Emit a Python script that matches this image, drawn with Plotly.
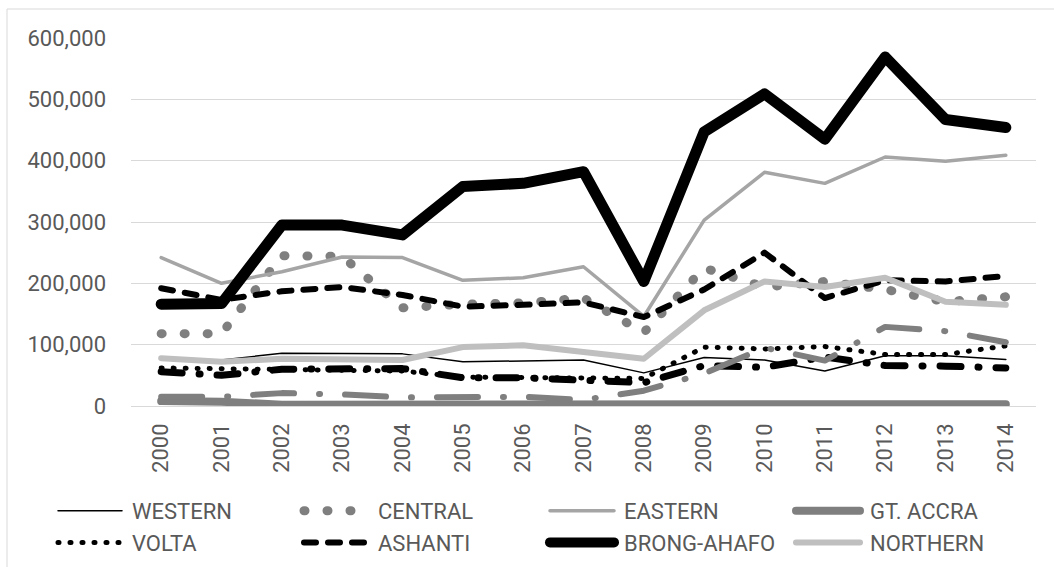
import plotly.graph_objects as go

# Regional output, 2000-2014
years = [str(y) for y in range(2000, 2015)]

western = [77000, 75000, 86000, 86000, 85000, 72000, 73000, 75000, 54000, 79000, 75000, 57000, 82000, 82000, 76000]
central = [118000, 118000, 245000, 244000, 160000, 166000, 168000, 176000, 120000, 225000, 194000, 203000, 190000, 170000, 178000]
eastern = [242000, 200000, 219000, 243000, 242000, 205000, 209000, 227000, 146000, 303000, 381000, 363000, 406000, 399000, 409000]
gt_accra = [8000, 7000, 2000, 2000, 2000, 2000, 2000, 2000, 3000, 3000, 3000, 4000, 4000, 4000, 3000]
volta = [62000, 61000, 60000, 60000, 57000, 47000, 47000, 47000, 45000, 96000, 93000, 97000, 84000, 84000, 98000]
ashanti = [192000, 173000, 187000, 194000, 181000, 162000, 165000, 169000, 145000, 190000, 250000, 176000, 205000, 203000, 212000]
brong_ahafo = [166000, 167000, 295000, 295000, 279000, 358000, 363000, 382000, 203000, 447000, 509000, 435000, 569000, 467000, 454000]
northern = [78000, 72000, 77000, 77000, 75000, 96000, 99000, 88000, 77000, 156000, 203000, 194000, 209000, 170000, 165000]
upper_east = [15000, 15000, 21000, 19000, 14000, 15000, 15000, 10000, 25000, 53000, 95000, 74000, 129000, 122000, 104000]
upper_west = [56000, 50000, 60000, 60000, 61000, 46000, 46000, 42000, 38000, 66000, 63000, 80000, 66000, 65000, 62000]

y_ticks = [0, 100000, 200000, 300000, 400000, 500000, 600000]

FONT = "Roboto"
TEXT = "#595959"

series = [
    # name, values, colour, width, dash, in legend
    ("WESTERN", western, "#000000", 1.5, "solid", True),
    ("CENTRAL", central, "#7f7f7f", 9, "1px,22px", True),
    ("EASTERN", eastern, "#a5a5a5", 3.5, "solid", True),
    ("GT. ACCRA", gt_accra, "#7f7f7f", 8, "solid", True),
    ("VOLTA", volta, "#000000", 5, "1px,11px", True),
    ("ASHANTI", ashanti, "#000000", 6, "12px,12px", True),
    ("BRONG-AHAFO", brong_ahafo, "#000000", 11, "solid", True),
    ("NORTHERN", northern, "#bfbfbf", 6, "solid", True),
    ("UPPER WEST", upper_west, "#000000", 7, "21px,17px,1px,17px", False),
    ("UPPER EAST", upper_east, "#7f7f7f", 6, "41px,25px,1px,25px", False),
]

fig = go.Figure()
for name, vals, color, width, dash, show in series:
    fig.add_trace(go.Scatter(
        x=years, y=vals, name=name, mode="lines",
        line=dict(color=color, width=width, dash=dash),
        showlegend=show,
    ))

W, H = 1054, 567
L, R, T, B = 131, 18, 38, 161
pw, ph = W - L - R, H - T - B

fig.update_layout(
    width=W, height=H,
    margin=dict(l=L, r=R, t=T, b=B, pad=0, autoexpand=False),
    paper_bgcolor="white", plot_bgcolor="white",
    font=dict(family=FONT, size=22, color=TEXT),
    showlegend=True,
    legend=dict(
        orientation="h",
        x=(52 - L) / pw, xanchor="left",
        y=(H - B - 490) / ph, yanchor="top",
        entrywidth=161, entrywidthmode="pixels",
        itemwidth=70,
        bgcolor="rgba(0,0,0,0)",
        font=dict(family=FONT, size=22, color=TEXT),
        traceorder="normal",
        tracegroupgap=0,
    ),
    xaxis=dict(
        type="category",
        range=[-0.5, len(years) - 0.5],
        showgrid=False, zeroline=False,
        showline=False,
        tickangle=-90,
        ticks="", ticklabelstandoff=12,
        tickfont=dict(family=FONT, size=22, color=TEXT),
    ),
    yaxis=dict(
        range=[0, 600000],
        tickvals=y_ticks,
        tickformat=",d",
        showgrid=True, gridcolor="#d9d9d9", gridwidth=1,
        zeroline=True, zerolinecolor="#d9d9d9", zerolinewidth=1,
        showline=False, ticks="",
        ticklabelstandoff=24,
        tickfont=dict(family=FONT, size=22, color=TEXT),
    ),
    shapes=[dict(
        type="rect", xref="paper", yref="paper",
        x0=(7 - L) / pw, x1=(W + 20 - L) / pw,
        y0=(H - B - (H + 20)) / ph, y1=(H - B - 9) / ph,
        line=dict(color="#d9d9d9", width=1), fillcolor="rgba(0,0,0,0)",
        layer="below",
    )],
)

# Rounded caps/joins on all series lines, and longer legend swatches
post = """
var gd = document.getElementById('{plot_id}');
function styleLines(){
  gd.querySelectorAll('path.js-line').forEach(function(p){
    p.style.strokeLinecap = 'round';
    p.style.strokeLinejoin = 'round';
  });
  gd.querySelectorAll('.legendlines path.js-line').forEach(function(p){
    p.setAttribute('d', 'M6,0h64');
  });
}
styleLines();
gd.on('plotly_afterplot', styleLines);
"""

fig.write_html("out.html", post_script=post)
